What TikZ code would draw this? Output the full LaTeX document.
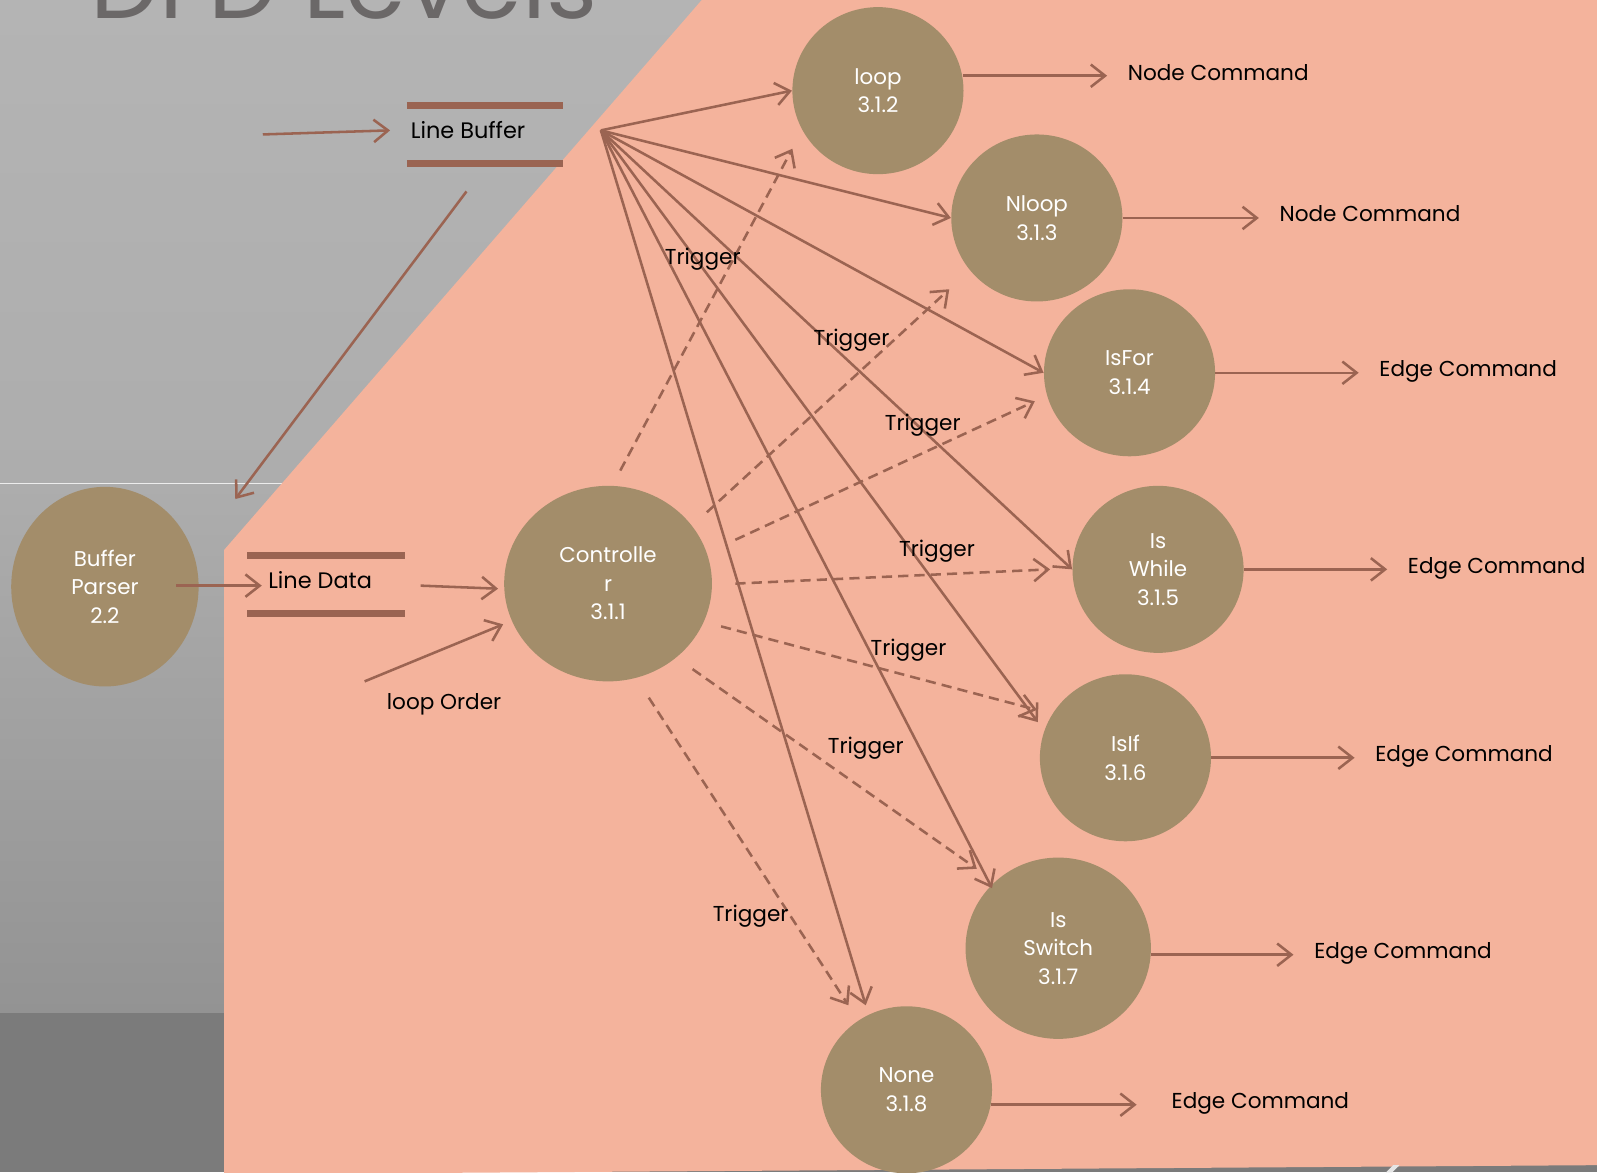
\documentclass[tikz,border=0pt]{standalone}
\usepackage{fontspec}
\setmainfont{Poppins}
\newfontfamily\titlefont{Poppins}
\usetikzlibrary{shapes.geometric,arrows.meta}

\definecolor{salmonC}{HTML}{F4B39C}
\definecolor{procC}{HTML}{A38D6A}
\definecolor{lineC}{HTML}{9B6452}
\definecolor{barC}{HTML}{9A6452}
\definecolor{titleC}{HTML}{6B6868}
\definecolor{greyTop}{HTML}{B4B4B4}
\definecolor{greyMid}{HTML}{ADADAD}
\definecolor{greyLow}{HTML}{939393}
\definecolor{greyDark}{HTML}{7B7B7B}

\tikzset{
  arr/.style={draw=lineC, line width=1.25pt,
    -{Straight Barb[length=7pt,width=11pt]}},
  trig/.style={arr, dash pattern=on 5pt off 3pt},
  proc/.style={ellipse, fill=procC, text=white, align=center, inner sep=0pt,
    font=\fontsize{10.5}{14}\selectfont},
  bar/.style={draw=barC, line width=3.5pt},
  lbl/.style={text=black, inner sep=0pt, font=\fontsize{10.6}{13}\selectfont},
  storetext/.style={text=black, inner sep=0pt, anchor=west,
    font=\fontsize{11}{13}\selectfont},
}

\begin{document}
\begin{tikzpicture}[x=0.5pt,y=-0.5pt]
\useasboundingbox (0,0) rectangle (1568,1151);
\clip (0,0) rectangle (1568,1151);

% grey backdrop in three bands
\shade[top color=greyTop, bottom color=greyMid] (0,0) rectangle (1568,475);
\shade[top color=greyMid, bottom color=greyLow] (0,475) rectangle (1568,995);
\fill[greyDark] (0,995) rectangle (1568,1151);
\draw[white!85!gray, line width=0.6pt] (0,475) -- (300,475);

% title, running off the top edge
\node[anchor=base west, inner sep=0pt, text=titleC,
      font=\titlefont\fontsize{48}{48}\selectfont] (title) at (88,18) {DFD Levels};

% salmon panel
\fill[salmonC] (689,0) -- (1568,0) -- (1568,1144) -- (220,1153) -- (220,540) -- cycle;
\fill[white!80!gray] (1361,1151) -- (1367,1151) -- (1374,1144) -- (1368,1144) -- cycle;

% processes
\node[proc, minimum width=92pt, minimum height=98pt] (bp) at (103,576) {Buffer\\Parser\\2.2};
\node[proc, minimum width=102pt, minimum height=96pt] (ctrl) at (597,573) {Controlle\\r\\3.1.1};
\node[proc, minimum width=84pt, minimum height=82pt] (loop) at (862,89) {loop\\3.1.2};
\node[proc, minimum width=84pt, minimum height=82pt] (nloop) at (1018,214) {Nloop\\3.1.3};
\node[proc, minimum width=84pt, minimum height=82pt] (isfor) at (1109,366) {IsFor\\3.1.4};
\node[proc, minimum width=84pt, minimum height=82pt] (iswhile) at (1137,559) {Is\\While\\3.1.5};
\node[proc, minimum width=84pt, minimum height=82pt] (isif) at (1105,744) {IsIf\\3.1.6};
\node[proc, minimum width=91pt, minimum height=89pt] (isswitch) at (1039,931) {Is\\Switch\\3.1.7};
\node[proc, minimum width=84pt, minimum height=82pt] (none) at (890,1070) {None\\3.1.8};

% data stores
\node[minimum width=76pt, minimum height=28pt, inner sep=0pt] (lb) at (476,132) {};
\draw[bar] (lb.north west) -- (lb.north east);
\draw[bar] (lb.south west) -- (lb.south east);
\node[storetext] (lbt) at (403,128) {Line Buffer};

\node[minimum width=77pt, minimum height=28pt, inner sep=0pt] (ld) at (320,574) {};
\draw[bar] (ld.north west) -- (ld.north east);
\draw[bar] (ld.south west) -- (ld.south east);
\node[storetext] (ldt) at (263,570) {Line Data};

% free ends of the flows
\coordinate (lbin) at (258,132);
\coordinate (lbout) at (458,188);
\coordinate (bpin) at (231,490);
\coordinate (bpout) at (173,575);
\coordinate (ldin) at (257,575);
\coordinate (ldout) at (413,575);
\coordinate (ctrlin) at (489,578);
\coordinate (ordin) at (358,669);
\coordinate (ordend) at (494,613);
\coordinate (fan) at (590,128);
\coordinate (noneTop) at (850,987);
\coordinate (ifIn) at (1019,709);
\coordinate (swIn) at (974,872);

% inputs
\draw[arr] (lbin) -- ([xshift=-10pt]lbt.west);
\draw[arr] (lbout) -- (bpin);
\draw[arr] (bpout) -- (ldin);
\draw[arr] (ldout) -- (ctrlin);
\draw[arr] (ordin) -- (ordend);
\node[lbl] (order) at (436,692) {loop Order};

% fan out from the line buffer
\draw[arr] (fan) -- (loop.west);
\draw[arr] (fan) -- (nloop.west);
\draw[arr] (fan) -- (isfor.west);
\draw[arr] (fan) -- (iswhile.west);
\draw[arr] (fan) -- (ifIn);
\draw[arr] (fan) -- (swIn);
\draw[arr] (fan) -- (noneTop);

% triggers from the controller
\coordinate (tA1) at (609,462);  \coordinate (tA2) at (778,146);
\coordinate (tB1) at (694,503);  \coordinate (tB2) at (932,284);
\coordinate (tC1) at (722,530);  \coordinate (tC2) at (1016,394);
\coordinate (tD1) at (722,573);  \coordinate (tD2) at (1031,559);
\coordinate (tE1) at (708,615);  \coordinate (tE2) at (1018,697);
\coordinate (tF1) at (680,657);  \coordinate (tF2) at (959,853);
\coordinate (tG1) at (637,685);  \coordinate (tG2) at (833,987);
\draw[trig] (tA1) -- (tA2);
\draw[trig] (tB1) -- (tB2);
\draw[trig] (tC1) -- (tC2);
\draw[trig] (tD1) -- (tD2);
\draw[trig] (tE1) -- (tE2);
\draw[trig] (tF1) -- (tF2);
\draw[trig] (tG1) -- (tG2);
\node[lbl] (trA) at (690,254) {Trigger};
\node[lbl] (trB) at (836,334) {Trigger};
\node[lbl] (trC) at (906,417) {Trigger};
\node[lbl] (trD) at (920,541) {Trigger};
\node[lbl] (trE) at (892,638) {Trigger};
\node[lbl] (trF) at (850,735) {Trigger};
\node[lbl] (trG) at (737,900) {Trigger};

% outputs
\node[lbl, anchor=base west] (o1) at (1107,79) {Node Command};
\node[lbl, anchor=base west] (o2) at (1256,217) {Node Command};
\node[lbl, anchor=base west] (o3) at (1354,370) {Edge Command};
\node[lbl, anchor=base west] (o4) at (1382,563) {Edge Command};
\node[lbl, anchor=base west] (o5) at (1350,748) {Edge Command};
\node[lbl, anchor=base west] (o6) at (1290,941) {Edge Command};
\node[lbl, anchor=base west] (o7) at (1150,1088) {Edge Command};

\draw[arr, shorten >=10pt] (loop.10) -- (loop.10 -| o1.west);
\draw[arr, shorten >=10pt] (nloop.east) -- (nloop.east -| o2.west);
\draw[arr, shorten >=10pt] (isfor.east) -- (isfor.east -| o3.west);
\draw[arr, shorten >=10pt] (iswhile.east) -- (iswhile.east -| o4.west);
\draw[arr, shorten >=10pt] (isif.east) -- (isif.east -| o5.west);
\draw[arr, shorten >=10pt] (isswitch.-4) -- (isswitch.-4 -| o6.west);
\draw[arr, shorten >=17pt] (none.-10) -- (none.-10 -| o7.west);
\end{tikzpicture}
\end{document}
